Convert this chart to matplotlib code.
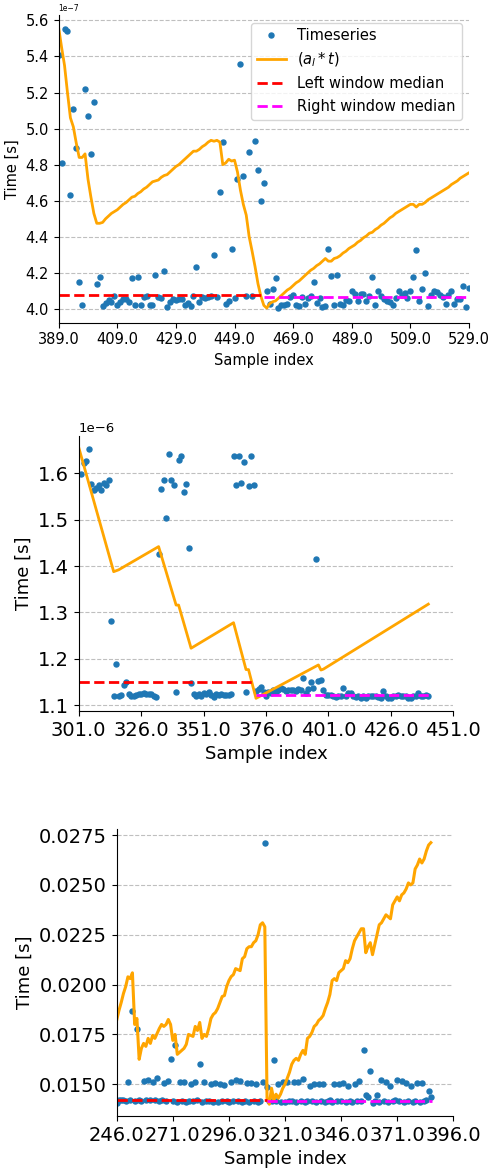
import numpy as np
import matplotlib
matplotlib.use("Agg")
import matplotlib.pyplot as plt

# ---------------- Panel 1 data (units of 1e-7 s) ----------------
x1_start, x1_end = 389, 529
ts1 = [5.41, 4.81, 5.55, 5.54, 4.63, 5.11, 4.89, 4.15, 4.02, 5.22,
       5.07, 4.86, 5.15, 4.14, 4.18, 4.015, 4.035, 4.05, 4.04, 4.07,
       4.02, 4.04, 4.055, 4.055, 4.04, 4.17, 4.02, 4.175, 4.02, 4.065,
       4.07, 4.02, 4.02, 4.19, 4.065, 4.06, 4.21, 4.01, 4.04, 4.055,
       4.05, 4.055, 4.055, 4.02, 4.035, 4.015, 4.07, 4.23, 4.04, 4.065,
       4.06, 4.065, 4.07, 4.30, 4.065, 4.65, 4.925, 4.03, 4.045, 4.33,
       4.06, 4.72, 5.36, 4.74, 4.07, 4.87, 4.07, 4.93, 4.77, 4.60,
       4.70, 4.10, 4.025, 4.11, 4.17, 4.005, 4.02, 4.02, 4.03, 4.065,
       4.075, 4.02, 4.015, 4.065, 4.03, 4.06, 4.07, 4.15, 4.035, 4.06,
       4.01, 4.015, 4.33, 4.185, 4.02, 4.19, 4.03, 4.02, 4.05, 4.045,
       4.10, 4.085, 4.045, 4.085, 4.085, 4.045, 4.07, 4.18, 4.02, 4.10,
       4.07, 4.055, 4.045, 4.04, 4.02, 4.06, 4.10, 4.08, 4.09, 4.06,
       4.10, 4.18, 4.325, 4.045, 4.11, 4.20, 4.015, 4.08, 4.10, 4.095,
       4.08, 4.065, 4.03, 4.08, 4.10, 4.03, 4.055, 4.055, 4.13, 4.01,
       4.115]
fit1 = [5.56, 5.45, 5.35, 5.20, 5.06, 5.01, 4.92, 4.84, 4.84, 4.86,
        4.72, 4.62, 4.53, 4.475, 4.475, 4.48, 4.50, 4.515, 4.53, 4.54,
        4.55, 4.565, 4.58, 4.59, 4.605, 4.62, 4.625, 4.64, 4.65, 4.665,
        4.675, 4.69, 4.705, 4.71, 4.715, 4.73, 4.74, 4.745, 4.76, 4.775,
        4.79, 4.80, 4.815, 4.83, 4.845, 4.86, 4.875, 4.875, 4.885, 4.90,
        4.91, 4.925, 4.935, 4.93, 4.935, 4.925, 4.80, 4.81, 4.83, 4.82,
        4.825, 4.76, 4.66, 4.58, 4.52, 4.40, 4.32, 4.235, 4.14, 4.07,
        4.02, 4.005, 4.03, 4.04, 4.045, 4.06, 4.075, 4.09, 4.105, 4.115,
        4.13, 4.145, 4.155, 4.17, 4.185, 4.20, 4.215, 4.225, 4.24, 4.25,
        4.265, 4.28, 4.265, 4.265, 4.28, 4.285, 4.295, 4.31, 4.32, 4.335,
        4.345, 4.355, 4.37, 4.38, 4.395, 4.405, 4.42, 4.425, 4.44, 4.45,
        4.465, 4.475, 4.49, 4.505, 4.515, 4.53, 4.54, 4.55, 4.56, 4.57,
        4.58, 4.58, 4.565, 4.58, 4.58, 4.59, 4.605, 4.615, 4.625, 4.635,
        4.645, 4.655, 4.665, 4.675, 4.69, 4.70, 4.71, 4.725, 4.735, 4.745,
        4.755]
left_med1, right_med1 = 4.075, 4.065
split1 = 459

# ---------------- Panel 2 data (units of 1e-6 s) ----------------
x2_start = 302
ts2 = [1.598, 1.623, 1.627, 1.653, 1.576, 1.564, 1.569, 1.574, 1.564, 1.580,
       1.575, 1.585, 1.282, 1.121, 1.190, 1.121, 1.122, 1.144, 1.151, 1.124,
       1.121, 1.120, 1.122, 1.124, 1.125, 1.126, 1.125, 1.125, 1.124, 1.121,
       1.117, 1.425, 1.567, 1.586, 1.503, 1.641, 1.585, 1.574, 1.128, 1.629,
       1.637, 1.560, 1.576, 1.439, 1.147, 1.124, 1.121, 1.124, 1.121, 1.126,
       1.124, 1.129, 1.122, 1.118, 1.124, 1.122, 1.124, 1.122, 1.122, 1.122,
       1.125, 1.637, 1.575, 1.637, 1.580, 1.624, 1.128, 1.573, 1.637, 1.575,
       1.131, 1.136, 1.139, 1.129, 1.121, 1.129, 1.126, 1.132, 1.129, 1.133,
       1.137, 1.135, 1.131, 1.132, 1.132, 1.132, 1.131, 1.135, 1.133, 1.158,
       1.126, 1.135, 1.150, 1.137, 1.415, 1.153, 1.155, 1.133, 1.122, 1.122,
       1.122, 1.121, 1.117, 1.119, 1.121, 1.138, 1.121, 1.127, 1.127, 1.121,
       1.117, 1.119, 1.116, 1.119, 1.116, 1.121, 1.119, 1.121, 1.119, 1.117,
       1.115, 1.131, 1.119, 1.116, 1.116, 1.121, 1.121, 1.122, 1.121, 1.121,
       1.119, 1.116, 1.115, 1.121, 1.119, 1.127, 1.119, 1.119, 1.122, 1.121]
fit2_x = [301, 315, 317, 333, 340, 341, 346, 363, 368, 369, 372, 397, 398, 399, 441]
fit2_y = [1.656, 1.388, 1.392, 1.442, 1.316, 1.316, 1.223, 1.278, 1.177, 1.177,
          1.115, 1.187, 1.176, 1.178, 1.318]
left_med2, right_med2 = 1.151, 1.123
split2_left, split2_right = 371, 372
x2_end = 441

# ---------------- Panel 3 data (seconds) ----------------
x3_start = 246
ts3 = [.01405, .01420, .01422, .01420, .01418, .01510, .01421, .01868, .01416, .01777,
       .01420, .01418, .01516, .01420, .01521, .01419, .01512, .01421, .01530, .01418,
       .01420, .01508, .01416, .01516, .01625, .01414, .01697, .01412, .01512, .01418,
       .01510, .01411, .01416, .01499, .01415, .01510, .01421, .01603, .01413, .01512,
       .01415, .01418, .01502, .01412, .01505, .01410, .01499, .01414, .01497, .01418,
       .01413, .01512, .01416, .01520, .01414, .01516, .01411, .01418, .01505, .01413,
       .01508, .01416, .01499, .01412, .01418, .01510, .02712, .01488, .01418, .01414,
       .01622, .01417, .01502, .01413, .01513, .01410, .01510, .01414, .01418, .01510,
       .01412, .01510, .01416, .01525, .01411, .01418, .01493, .01414, .01502, .01410,
       .01502, .01416, .01502, .01412, .01415, .01419, .01411, .01502, .01414, .01502,
       .01418, .01505, .01413, .01493, .01416, .01411, .01502, .01418, .01517, .01414,
       .01670, .01446, .01438, .01565, .01405, .01415, .01446, .01412, .01522, .01418,
       .01513, .01410, .01493, .01415, .01420, .01522, .01414, .01518, .01412, .01508,
       .01416, .01493, .01411, .01418, .01505, .01413, .01508, .01416, .01419, .01468,
       .01438]
fit3 = [.01822, .01870, .01910, .01955, .01990, .02039, .02030, .02059, .01800, .01830,
        .01625, .01680, .01705, .01690, .01730, .01705, .01745, .01730, .01755, .01780,
        .01800, .01790, .01800, .01825, .01800, .01720, .01750, .01650, .01660, .01670,
        .01680, .01700, .01750, .01745, .01740, .01790, .01770, .01810, .01730, .01750,
        .01740, .01780, .01830, .01850, .01860, .01880, .01910, .01940, .01945, .01990,
        .02020, .02040, .02050, .02080, .02075, .02070, .02130, .02140, .02180, .02190,
        .02190, .02210, .02220, .02250, .02300, .02310, .02290, .01430, .01400, .01480,
        .01420, .01450, .01430, .01450, .01480, .01500, .01530, .01560, .01600, .01620,
        .01630, .01620, .01650, .01670, .01650, .01730, .01740, .01760, .01790, .01800,
        .01820, .01830, .01845, .01880, .01910, .01950, .02020, .02030, .02020, .02060,
        .02070, .02080, .02120, .02110, .02130, .02180, .02220, .02240, .02260, .02280,
        .02280, .02160, .02190, .02210, .02150, .02200, .02250, .02300, .02310, .02330,
        .02350, .02340, .02330, .02400, .02420, .02440, .02420, .02450, .02460, .02480,
        .02510, .02500, .02510, .02580, .02600, .02630, .02610, .02630, .02670, .02700,
        .02712]
left_med3, right_med3 = 0.01421, 0.01418
split3 = 313

ORANGE = "orange"
BLUE = "tab:blue"

fig = plt.figure(figsize=(4.91, 11.70), dpi=100)


def style(ax):
    ax.spines["top"].set_visible(False)
    ax.spines["right"].set_visible(False)
    ax.grid(axis="y", linestyle="--", color="#b0b0b0", alpha=0.8, linewidth=0.8)
    ax.set_axisbelow(True)


# ---------------- Panel 1 ----------------
ax1 = fig.add_axes([0.1195, 0.7242, 0.8357, 0.2627])
x1 = np.arange(x1_start, x1_end + 1)
s1 = 1e-7
ax1.plot(x1, np.array(ts1) * s1, "o", color=BLUE, ms=3.6, label="Timeseries")
ax1.plot(x1, np.array(fit1) * s1, color=ORANGE, lw=2, label=r"$(a_l * t)$")
ax1.plot([x1_start, split1], [left_med1 * s1] * 2, "--", color="red", lw=2,
         label="Left window median")
ax1.plot([split1, x1_end], [right_med1 * s1] * 2, "--", color="magenta", lw=2,
         label="Right window median")
ax1.set_xlim(389, 529)
ax1.set_ylim(3.924e-7, 5.628e-7)
xt1 = np.arange(389, 530, 20)
ax1.set_xticks(xt1)
ax1.set_xticklabels([f"{v:.1f}" for v in xt1])
ax1.set_yticks(np.arange(4.0, 5.61, 0.2) * 1e-7)
ax1.tick_params(labelsize=10.5)
ax1.yaxis.get_offset_text().set_fontsize(5.5)
ax1.set_xlabel("Sample index", fontsize=10.5)
ax1.set_ylabel("Time [s]", fontsize=10.5)
style(ax1)
ax1.legend(loc="upper right", fontsize=10.5)

# ---------------- Panel 2 ----------------
ax2 = fig.add_axes([0.1603, 0.3923, 0.7629, 0.2353])
x2 = np.arange(x2_start, x2_start + len(ts2))
s2 = 1e-6
ax2.plot(x2, np.array(ts2) * s2, "o", color=BLUE, ms=3.6)
ax2.plot(fit2_x, np.array(fit2_y) * s2, color=ORANGE, lw=2)
ax2.plot([301, split2_left], [left_med2 * s2] * 2, "--", color="red", lw=2)
ax2.plot([split2_right, x2_end + 1], [right_med2 * s2] * 2, "--", color="magenta", lw=2)
ax2.set_xlim(301, 451)
ax2.set_ylim(1.0877e-6, 1.681e-6)
xt2 = np.arange(301, 452, 25)
ax2.set_xticks(xt2)
ax2.set_xticklabels([f"{v:.1f}" for v in xt2])
ax2.set_yticks(np.arange(1.1, 1.61, 0.1) * 1e-6)
ax2.tick_params(labelsize=14)
ax2.yaxis.get_offset_text().set_fontsize(9.5)
ax2.set_xlabel("Sample index", fontsize=13)
ax2.set_ylabel("Time [s]", fontsize=13)
style(ax2)

# ---------------- Panel 3 ----------------
ax3 = fig.add_axes([0.2377, 0.0462, 0.6855, 0.2450])
x3 = np.arange(x3_start, x3_start + len(ts3))
ax3.plot(x3, ts3, "o", color=BLUE, ms=3.6)
ax3.plot(x3, fit3, color=ORANGE, lw=2.2)
ax3.plot([x3_start, split3], [left_med3] * 2, "--", color="red", lw=2)
ax3.plot([split3, x3[-1] + 0.5], [right_med3] * 2, "--", color="magenta", lw=2)
ax3.set_xlim(246, 396)
ax3.set_ylim(0.01341, 0.02779)
xt3 = np.arange(246, 397, 25)
ax3.set_xticks(xt3)
ax3.set_xticklabels([f"{v:.1f}" for v in xt3])
ax3.set_yticks([0.0150, 0.0175, 0.0200, 0.0225, 0.0250, 0.0275])
ax3.set_yticklabels(["0.0150", "0.0175", "0.0200", "0.0225", "0.0250", "0.0275"])
ax3.tick_params(labelsize=14)
ax3.set_xlabel("Sample index", fontsize=13)
ax3.set_ylabel("Time [s]", fontsize=13)
style(ax3)

fig.savefig("out.png", dpi=100)
